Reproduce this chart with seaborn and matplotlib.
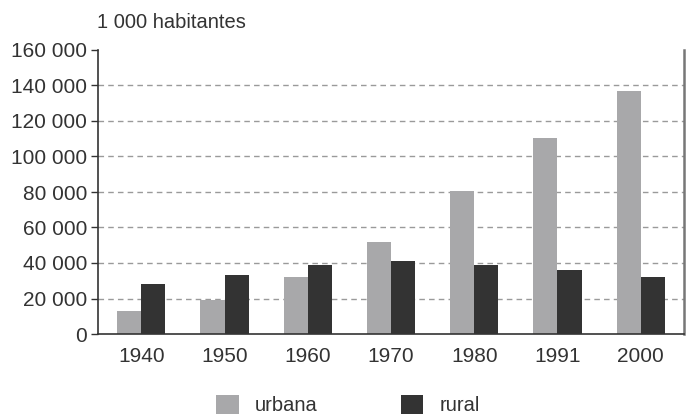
import matplotlib
matplotlib.use("Agg")
import matplotlib.pyplot as plt
import seaborn as sns
import pandas as pd
from matplotlib.ticker import FuncFormatter
from matplotlib.patches import Patch

years = ["1940", "1950", "1960", "1970", "1980", "1991", "2000"]
urbana = [12900, 19400, 32000, 52000, 80400, 110500, 136800]
rural = [28400, 33200, 39000, 41000, 38600, 36000, 32000]
series = ["urbana", "rural"]
colors = {"urbana": "#a8a8aa", "rural": "#333333"}

df = pd.DataFrame({
    "ano": years * 2,
    "pop": urbana + rural,
    "tipo": ["urbana"] * len(years) + ["rural"] * len(years),
})

sns.set_theme(style="white")
plt.rcParams["font.family"] = ["Liberation Sans", "DejaVu Sans"]

fig = plt.figure(figsize=(6.93, 4.19), dpi=100)
ax = fig.add_axes([98/693, 85/419, 586/693, 284/419])

sns.barplot(data=df, x="ano", y="pop", hue="tipo", hue_order=series,
            palette=colors, width=0.58, ax=ax, legend=False,
            saturation=1, linewidth=0)

ax.set_ylim(0, 160000)
ax.set_xlim(-0.52, 6.52)
ax.set_yticks(range(0, 160001, 20000))
ax.yaxis.set_major_formatter(FuncFormatter(lambda v, p: f"{int(v):,}".replace(",", " ")))
ax.set_xlabel("")
ax.set_ylabel("")
for y in range(20000, 140001, 20000):
    ax.axhline(y, color="#9a9a9a", linestyle=(0, (4, 3)), linewidth=1, zorder=0)
ax.set_axisbelow(True)

ax.spines["top"].set_visible(False)
ax.spines["left"].set_color("#333333")
ax.spines["bottom"].set_color("#333333")
ax.spines["right"].set_color("#777777")
ax.spines["left"].set_linewidth(1.2)
ax.spines["bottom"].set_linewidth(1.2)
ax.spines["right"].set_linewidth(1.8)

ax.tick_params(axis="y", which="both", left=True, length=5, width=1, color="#333333",
               labelsize=15, labelcolor="#333333", pad=3)
ax.tick_params(axis="x", bottom=False, labelsize=15, labelcolor="#333333", pad=3)

fig.text(97/693, 1 - 22/419, "1 000 habitantes", fontsize=14.5, color="#333333",
         ha="left", va="center")

handles = [Patch(facecolor=colors[s], edgecolor="none", label=s) for s in series]
fig.legend(handles=handles, loc="center", bbox_to_anchor=(348/693, 1 - 405/419),
           ncol=2, frameon=False, fontsize=14.5, handlelength=1.1, handleheight=1.1,
           columnspacing=4.15, handletextpad=0.8, labelcolor="#333333")

fig.savefig("out.png", dpi=100, facecolor="white")
